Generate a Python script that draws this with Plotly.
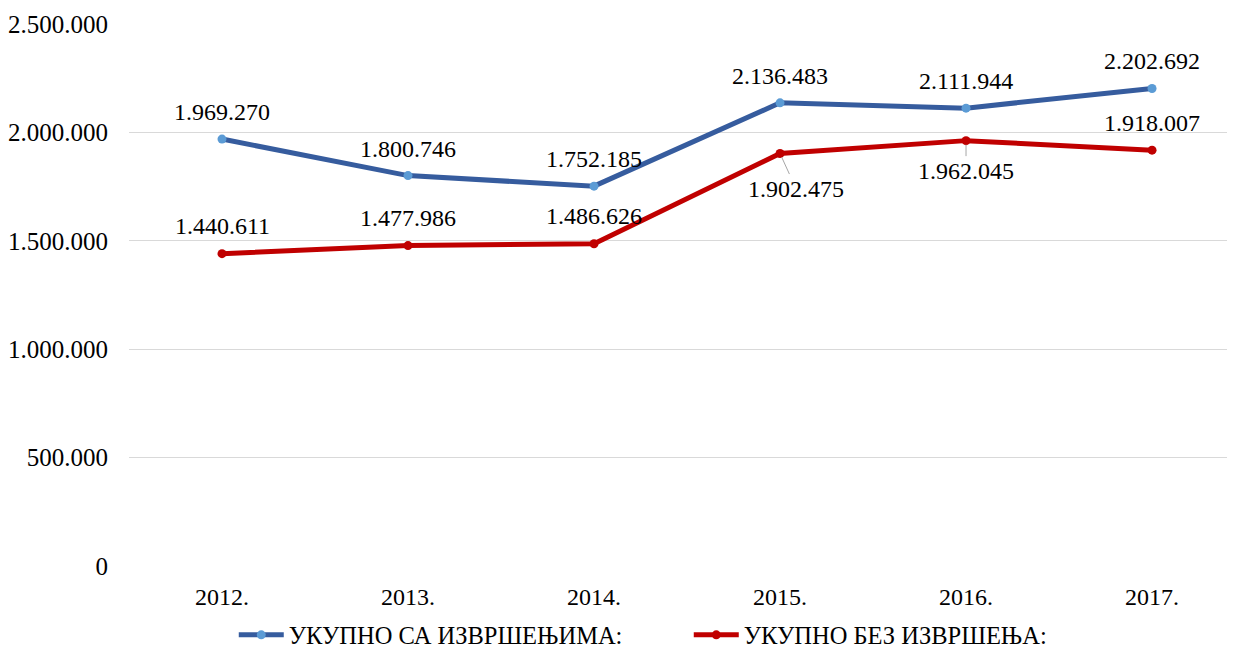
import plotly.graph_objects as go

years = ["2012.", "2013.", "2014.", "2015.", "2016.", "2017."]
sa_izvrsenjima = [1969270, 1800746, 1752185, 2136483, 2111944, 2202692]
bez_izvrsenja = [1440611, 1477986, 1486626, 1902475, 1962045, 1918007]
name_sa = "УКУПНО СА ИЗВРШЕЊИМА:"
name_bez = "УКУПНО БЕЗ ИЗВРШЕЊА:"
y_ticks = [0, 500000, 1000000, 1500000, 2000000, 2500000]

def fmt(v):
    return f"{v:,}".replace(",", ".")

FONT = "Liberation Serif"
BLUE_LINE = "#365C9E"
BLUE_MARK = "#5B9BD5"
RED = "#C00000"
LBL = 24

fig = go.Figure()
fig.add_trace(go.Scatter(x=years, y=sa_izvrsenjima, name=name_sa, mode="lines+markers",
                         line=dict(color=BLUE_LINE, width=5),
                         marker=dict(color=BLUE_MARK, size=9)))
fig.add_trace(go.Scatter(x=years, y=bez_izvrsenja, name=name_bez, mode="lines+markers",
                         line=dict(color=RED, width=5),
                         marker=dict(color=RED, size=9)))

ann = []
for i, v in enumerate(sa_izvrsenjima):
    ann.append(dict(x=i, y=v, xref="x", yref="y", text=fmt(v), showarrow=False, yshift=27,
                    font=dict(family=FONT, size=LBL, color="#000")))
# red labels: offsets (dx, dy) in pixels, with leader line or not
red_off = [(0, -28, False), (0, -28, False), (0, -28, False), (16, 35, True), (0, 30, True), (0, -27, False)]
for i, (v, (dx, dy, arrow)) in enumerate(zip(bez_izvrsenja, red_off)):
    if arrow:
        ann.append(dict(x=i, y=v, xref="x", yref="y", text=fmt(v), showarrow=True, ax=dx, ay=dy,
                        arrowhead=0, arrowwidth=1, arrowcolor="#A6A6A6", standoff=4,
                        font=dict(family=FONT, size=LBL, color="#000")))
    else:
        ann.append(dict(x=i, y=v, xref="x", yref="y", text=fmt(v), showarrow=False,
                        xshift=dx, yshift=-dy,
                        font=dict(family=FONT, size=LBL, color="#000")))

fig.update_layout(
    width=1227, height=645,
    margin=dict(l=121, r=0, t=16, b=87),
    paper_bgcolor="white", plot_bgcolor="white",
    font=dict(family=FONT, size=24, color="#000"),
    showlegend=True,
    legend=dict(orientation="h", xref="container", x=0.184, xanchor="left",
                yref="container", y=0.028, yanchor="middle", entrywidth=395,
                font=dict(family=FONT, size=24.5, color="#000"), itemwidth=45,
                traceorder="normal"),
    annotations=ann,
)
fig.update_xaxes(type="category", range=[-0.5, 5.446], showgrid=False, showline=False,
                 ticks="", ticklabelstandoff=14, tickfont=dict(family=FONT, size=24, color="#000"))
fig.update_yaxes(range=[0, 2500000], tickvals=y_ticks, ticktext=[fmt(v) for v in y_ticks],
                 showgrid=True, gridcolor="#D9D9D9", gridwidth=1, zeroline=False,
                 showline=False, ticks="", ticklabelstandoff=20,
                 tickfont=dict(family=FONT, size=25, color="#000"))

fig.write_html("out.html")
